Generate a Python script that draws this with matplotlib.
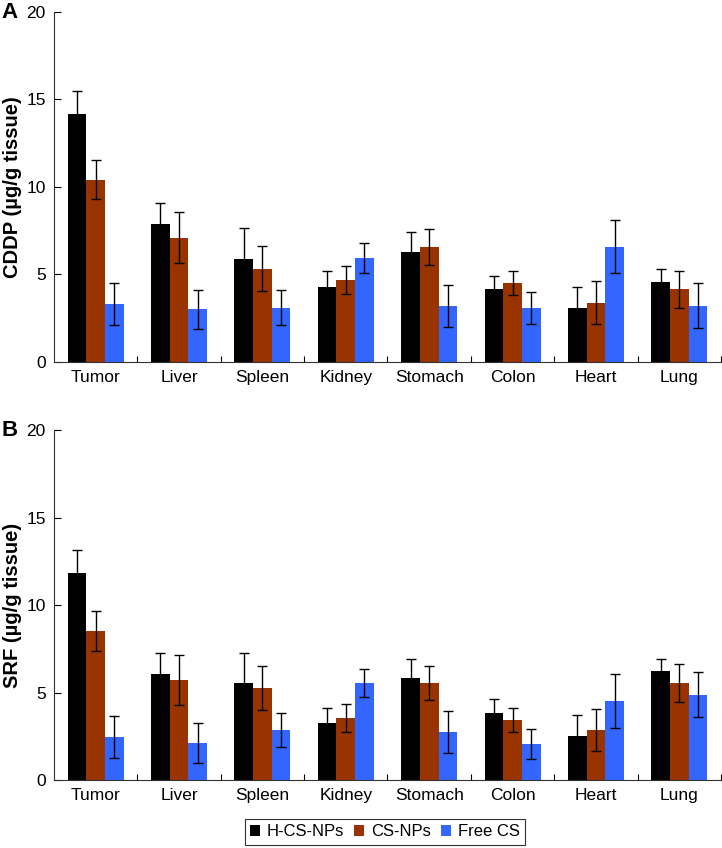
import matplotlib
matplotlib.use("Agg")
import matplotlib.pyplot as plt
import numpy as np
from matplotlib.ticker import FixedLocator

plt.rcParams['font.family'] = ['Liberation Sans', 'DejaVu Sans']

organs = ["Tumor", "Liver", "Spleen", "Kidney", "Stomach", "Colon", "Heart", "Lung"]
series = ["H-CS-NPs", "CS-NPs", "Free CS"]
colors = ["#000000", "#993300", "#3366FF"]

# Panel A: CDDP
cddp_h = [14.18, 7.90, 5.90, 4.29, 6.30, 4.14, 3.09, 4.58]
cddp_cs = [10.42, 7.10, 5.32, 4.69, 6.58, 4.52, 3.38, 4.14]
cddp_free = [3.32, 3.00, 3.09, 5.92, 3.21, 3.09, 6.58, 3.21]
cddp_h_err = [1.32, 1.20, 1.73, 0.92, 1.10, 0.78, 1.20, 0.73]
cddp_cs_err = [1.10, 1.45, 1.28, 0.80, 1.03, 0.69, 1.22, 1.07]
cddp_free_err = [1.20, 1.12, 1.00, 0.86, 1.20, 0.92, 1.53, 1.31]

# Panel B: SRF
srf_h = [11.83, 6.05, 5.53, 3.26, 5.84, 3.82, 2.52, 6.22]
srf_cs = [8.53, 5.73, 5.27, 3.55, 5.55, 3.44, 2.86, 5.55]
srf_free = [2.46, 2.12, 2.86, 5.55, 2.75, 2.06, 4.52, 4.87]
srf_h_err = [1.30, 1.20, 1.72, 0.86, 1.09, 0.82, 1.20, 0.71]
srf_cs_err = [1.15, 1.43, 1.26, 0.82, 0.98, 0.69, 1.20, 1.10]
srf_free_err = [1.22, 1.14, 1.00, 0.80, 1.22, 0.88, 1.57, 1.28]

yticks = [0, 5, 10, 15, 20]

fig = plt.figure(figsize=(7.22, 8.48), dpi=100)
axA = fig.add_axes([0.0748, 0.5735, 0.9238, 0.4123])
axB = fig.add_axes([0.0748, 0.0802, 0.9238, 0.4123])

width = 0.224
x = np.arange(len(organs))


def draw(ax, vals, errs, ylabel, letter):
    handles = []
    for i, (v, e, c, name) in enumerate(zip(vals, errs, colors, series)):
        b = ax.bar(x + (i - 1) * width, v, width, color=c, label=name,
                   linewidth=0, zorder=2)
        ax.errorbar(x + (i - 1) * width, v, yerr=e, fmt='none', ecolor='black',
                    elinewidth=1.0, capsize=3.5, capthick=1.0, zorder=3)
        handles.append(b)
    ax.set_xlim(-0.5, len(organs) - 0.5)
    ax.set_ylim(0, 20)
    ax.set_yticks(yticks)
    ax.set_xticks(x)
    ax.set_xticklabels(organs)
    ax.xaxis.set_minor_locator(FixedLocator(np.arange(0.5, len(organs), 1.0)))
    ax.tick_params(axis='x', which='major', length=0, labelsize=12.5, pad=6)
    ax.tick_params(axis='x', which='minor', direction='in', length=4, width=0.8)
    ax.tick_params(axis='y', which='major', direction='in', length=5, width=0.8,
                   labelsize=12.5, pad=6)
    for s in ['top', 'right']:
        ax.spines[s].set_visible(False)
    for s in ['left', 'bottom']:
        ax.spines[s].set_linewidth(0.8)
        ax.spines[s].set_color('#333333')
    ax.set_ylabel(ylabel, fontsize=14.5, fontweight='bold', va='center')
    ax.yaxis.set_label_coords(-0.0615, 0.5)
    ax.text(-0.079, 1.0, letter, transform=ax.transAxes, fontsize=16,
            fontweight='bold', ha='left', va='center')
    return handles


draw(axA, [cddp_h, cddp_cs, cddp_free], [cddp_h_err, cddp_cs_err, cddp_free_err],
     "CDDP (µg/g tissue)", "A")
hs = draw(axB, [srf_h, srf_cs, srf_free], [srf_h_err, srf_cs_err, srf_free_err],
          "SRF (µg/g tissue)", "B")

leg = fig.legend(hs, series, loc='center', bbox_to_anchor=(385 / 722, 1 - 832 / 848),
                 ncol=3, fontsize=12, frameon=True, fancybox=False,
                 handlelength=0.6, handleheight=0.6, handletextpad=0.4,
                 columnspacing=0.6, borderpad=0.35, borderaxespad=0)
leg.get_frame().set_edgecolor('black')
leg.get_frame().set_linewidth(0.8)

fig.savefig("out.png", dpi=100)
